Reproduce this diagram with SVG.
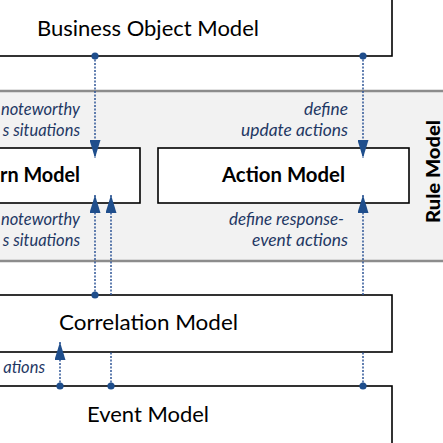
<svg xmlns="http://www.w3.org/2000/svg" width="443" height="443" viewBox="0 0 443 443">
<defs>
<style>
.box{fill:#fff;stroke:#000;stroke-width:1.6}
.t{font-family:Lato,"Liberation Sans",sans-serif;font-size:21px;fill:#000}
.b{font-family:Lato,"Liberation Sans",sans-serif;font-size:20px;font-weight:bold;fill:#000}
.r{font-family:Lato,"Liberation Sans",sans-serif;font-size:19px;font-weight:900;fill:#000}
.i{font-family:Lato,"Liberation Sans",sans-serif;font-size:16.5px;font-style:italic;fill:#1f3864;text-anchor:end}
.c{fill:none;stroke:#2f5597;stroke-width:1.5;stroke-dasharray:2 1.5;marker-end:url(#arr)}
.band{stroke:#8c8c8c;stroke-width:2.5}
</style>
<marker id="arr" markerUnits="userSpaceOnUse" markerWidth="18" markerHeight="11" refX="18" refY="5.5" orient="auto" viewBox="0 0 18 11">
<path d="M0,0 L18,5.5 L0,11 z" fill="#1f4e8c"/>
</marker>
<marker id="dot" markerUnits="userSpaceOnUse" markerWidth="8" markerHeight="8" refX="4" refY="4" viewBox="0 0 8 8">
<circle cx="4" cy="4" r="3.6" fill="#1f4e8c"/>
</marker>
</defs>
<rect x="0" y="0" width="443" height="443" fill="#fff"/>
<g id="rule-model">
<rect x="0" y="91" width="443" height="170" fill="#f2f2f2"/>
<line class="band" x1="0" y1="91" x2="443" y2="91"/>
<line class="band" x1="0" y1="261" x2="443" y2="261"/>
<text class="r" transform="translate(440,171.5) rotate(-90)" text-anchor="middle" textLength="103" lengthAdjust="spacingAndGlyphs">Rule Model</text>
</g>
<g id="business-object-model">
<rect class="box" x="-10" y="-10" width="402" height="66"/>
<text class="t" x="37" y="36" textLength="222" lengthAdjust="spacingAndGlyphs">Business Object Model</text>
</g>
<g id="pattern-model">
<rect class="box" x="-120" y="148" width="260" height="55"/>
<text class="b" x="0" y="182" textLength="80" lengthAdjust="spacingAndGlyphs">rn Model</text>
</g>
<g id="action-model">
<rect class="box" x="158" y="148" width="251" height="55"/>
<text class="b" x="222" y="182" textLength="123" lengthAdjust="spacingAndGlyphs">Action Model</text>
</g>
<g id="correlation-model">
<rect class="box" x="-10" y="295" width="402" height="57"/>
<text class="t" x="59" y="330" textLength="179" lengthAdjust="spacingAndGlyphs">Correlation Model</text>
</g>
<g id="event-model">
<rect class="box" x="-10" y="386" width="402" height="80"/>
<text class="t" x="87" y="422" textLength="122" lengthAdjust="spacingAndGlyphs">Event Model</text>
</g>
<g id="connectors">
<path class="c" d="M95 56 V158" marker-start="url(#dot)"/>
<path class="c" d="M363 56 V158" marker-start="url(#dot)"/>
<path class="c" d="M95 295 V195" marker-start="url(#dot)"/>
<path class="c" d="M111 386 V352 M111 295 V195" marker-start="url(#dot)"/>
<path class="c" d="M60 386 V342" marker-start="url(#dot)"/>
<path class="c" d="M363 386 V352 M363 295 V195" marker-start="url(#dot)"/>
</g>
<g id="labels">
<text class="i" x="80" y="115">noteworthy</text>
<text class="i" x="80" y="136">s situations</text>
<text class="i" x="348" y="115" textLength="44" lengthAdjust="spacingAndGlyphs">define</text>
<text class="i" x="348" y="136" textLength="107" lengthAdjust="spacingAndGlyphs">update actions</text>
<text class="i" x="80" y="225">noteworthy</text>
<text class="i" x="80" y="246">s situations</text>
<text class="i" x="344" y="225" textLength="115" lengthAdjust="spacingAndGlyphs">define response-</text>
<text class="i" x="348" y="246" textLength="96" lengthAdjust="spacingAndGlyphs">event actions</text>
<text class="i" x="45" y="373">ations</text>
</g>
</svg>
